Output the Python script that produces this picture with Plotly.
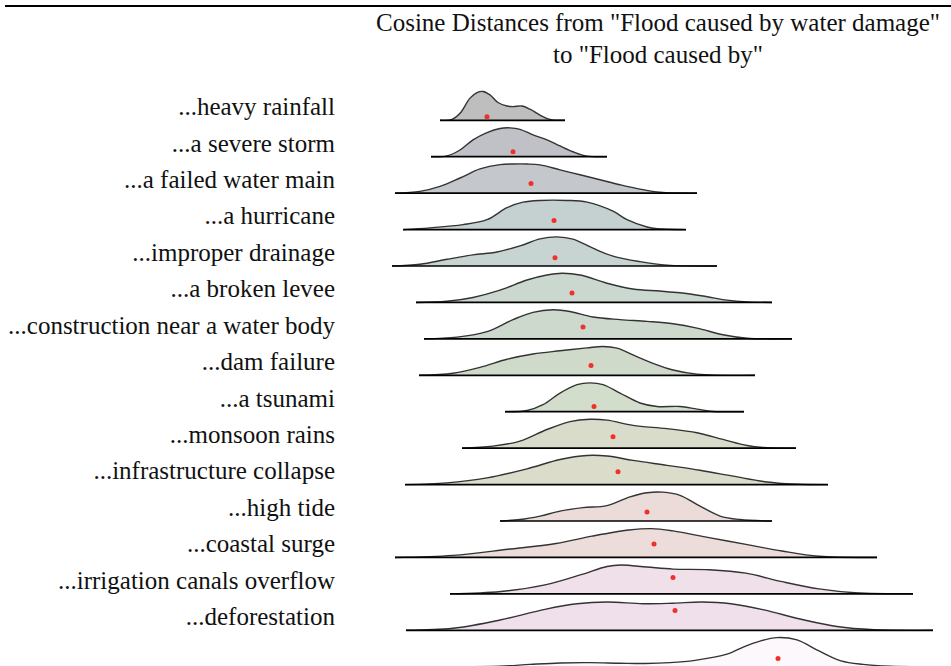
import plotly.graph_objects as go

categories = [
    "...heavy rainfall", "...a severe storm", "...a failed water main", "...a hurricane",
    "...improper drainage", "...a broken levee", "...construction near a water body",
    "...dam failure", "...a tsunami", "...monsoon rains", "...infrastructure collapse",
    "...high tide", "...coastal surge", "...irrigation canals overflow", "...deforestation", "...joy",
]

# cosine distance sample positions and relative density (peak ~1) per category
dist_heavy_rainfall = [0.140, 0.152, 0.160, 0.170, 0.177, 0.183, 0.190, 0.198, 0.207, 0.213, 0.222, 0.230, 0.240, 0.250, 0.265]
dens_heavy_rainfall = [0, 0.03, 0.24, 0.76, 0.95, 0.99, 0.87, 0.61, 0.49, 0.47, 0.49, 0.38, 0.18, 0.03, 0]
dist_severe_storm = [0.131, 0.147, 0.160, 0.173, 0.187, 0.200, 0.210, 0.220, 0.233, 0.247, 0.260, 0.273, 0.287, 0.307]
dens_severe_storm = [0, 0.03, 0.23, 0.58, 0.83, 0.97, 0.99, 0.94, 0.75, 0.58, 0.37, 0.17, 0.02, 0]
dist_water_main = [0.095, 0.120, 0.140, 0.160, 0.180, 0.200, 0.213, 0.227, 0.240, 0.260, 0.280, 0.300, 0.320, 0.340, 0.360, 0.397]
dens_water_main = [0, 0.06, 0.23, 0.52, 0.83, 0.98, 1.0, 1.0, 0.97, 0.80, 0.63, 0.46, 0.29, 0.14, 0.03, 0]
dist_hurricane = [0.103, 0.130, 0.163, 0.187, 0.207, 0.223, 0.240, 0.267, 0.287, 0.313, 0.327, 0.347, 0.357, 0.386]
dens_hurricane = [0, 0.06, 0.17, 0.34, 0.75, 0.94, 1.0, 1.0, 0.94, 0.63, 0.34, 0.09, 0.03, 0]
dist_drainage = [0.092, 0.120, 0.147, 0.173, 0.197, 0.220, 0.240, 0.257, 0.273, 0.293, 0.313, 0.340, 0.367, 0.417]
dens_drainage = [0, 0.06, 0.23, 0.38, 0.48, 0.69, 0.93, 1.0, 0.92, 0.61, 0.34, 0.15, 0.03, 0]
dist_levee = [0.116, 0.147, 0.173, 0.200, 0.227, 0.247, 0.262, 0.280, 0.307, 0.333, 0.360, 0.380, 0.403, 0.427, 0.447, 0.472]
dens_levee = [0, 0.04, 0.17, 0.42, 0.77, 0.94, 1.0, 0.94, 0.66, 0.46, 0.39, 0.33, 0.22, 0.08, 0.02, 0]
dist_construction = [0.124, 0.157, 0.187, 0.213, 0.233, 0.253, 0.270, 0.293, 0.320, 0.347, 0.373, 0.397, 0.423, 0.447, 0.492]
dens_construction = [0, 0.06, 0.25, 0.66, 0.91, 1.0, 0.94, 0.75, 0.66, 0.60, 0.52, 0.37, 0.14, 0.02, 0]
dist_dam = [0.119, 0.153, 0.180, 0.207, 0.233, 0.260, 0.287, 0.303, 0.317, 0.333, 0.353, 0.373, 0.397, 0.455]
dens_dam = [0, 0.07, 0.27, 0.55, 0.73, 0.84, 0.94, 0.99, 0.93, 0.70, 0.41, 0.18, 0.04, 0]
dist_tsunami = [0.205, 0.227, 0.243, 0.260, 0.277, 0.290, 0.303, 0.320, 0.340, 0.357, 0.380, 0.397, 0.413, 0.444]
dens_tsunami = [0, 0.04, 0.24, 0.64, 0.93, 0.99, 0.93, 0.64, 0.30, 0.18, 0.18, 0.09, 0.01, 0]
dist_monsoon = [0.162, 0.193, 0.220, 0.247, 0.270, 0.290, 0.307, 0.333, 0.367, 0.397, 0.423, 0.447, 0.463, 0.496]
dens_monsoon = [0, 0.07, 0.24, 0.64, 0.91, 0.99, 0.96, 0.78, 0.67, 0.53, 0.30, 0.09, 0.02, 0]
dist_infrastructure = [0.105, 0.147, 0.187, 0.227, 0.260, 0.287, 0.307, 0.333, 0.367, 0.400, 0.433, 0.467, 0.493, 0.528]
dens_infrastructure = [0, 0.06, 0.23, 0.54, 0.86, 1.0, 0.98, 0.83, 0.66, 0.49, 0.29, 0.09, 0.02, 0]
dist_high_tide = [0.200, 0.220, 0.240, 0.260, 0.283, 0.307, 0.330, 0.347, 0.363, 0.380, 0.400, 0.420, 0.440, 0.472]
dens_high_tide = [0, 0.05, 0.17, 0.34, 0.46, 0.53, 0.83, 0.97, 0.99, 0.88, 0.51, 0.17, 0.05, 0]
dist_coastal = [0.095, 0.153, 0.208, 0.256, 0.292, 0.329, 0.351, 0.373, 0.409, 0.446, 0.482, 0.519, 0.577]
dens_coastal = [0, 0.07, 0.28, 0.48, 0.73, 0.94, 0.99, 0.91, 0.68, 0.45, 0.22, 0.04, 0]
dist_irrigation = [0.150, 0.201, 0.245, 0.281, 0.307, 0.321, 0.347, 0.373, 0.409, 0.446, 0.482, 0.519, 0.555, 0.613]
dens_irrigation = [0, 0.08, 0.31, 0.66, 0.94, 0.99, 0.92, 0.85, 0.83, 0.71, 0.42, 0.17, 0.04, 0]
dist_deforestation = [0.106, 0.153, 0.201, 0.245, 0.277, 0.307, 0.343, 0.373, 0.402, 0.431, 0.464, 0.501, 0.537, 0.574, 0.633]
dens_deforestation = [0, 0.07, 0.36, 0.72, 0.91, 0.97, 0.91, 0.93, 0.97, 0.91, 0.70, 0.38, 0.13, 0.02, 0]
dist_joy = [0.150, 0.200, 0.230, 0.260, 0.290, 0.320, 0.345, 0.370, 0.395, 0.427, 0.445, 0.460, 0.477, 0.497, 0.519, 0.541, 0.563, 0.590, 0.630]
dens_joy = [0, 0.02, 0.08, 0.13, 0.14, 0.12, 0.11, 0.14, 0.22, 0.43, 0.70, 0.88, 1.0, 0.92, 0.54, 0.20, 0.08, 0.02, 0]

curve_dist = [dist_heavy_rainfall, dist_severe_storm, dist_water_main, dist_hurricane, dist_drainage,
              dist_levee, dist_construction, dist_dam, dist_tsunami, dist_monsoon, dist_infrastructure,
              dist_high_tide, dist_coastal, dist_irrigation, dist_deforestation, dist_joy]
curve_dens = [dens_heavy_rainfall, dens_severe_storm, dens_water_main, dens_hurricane, dens_drainage,
              dens_levee, dens_construction, dens_dam, dens_tsunami, dens_monsoon, dens_infrastructure,
              dens_high_tide, dens_coastal, dens_irrigation, dens_deforestation, dens_joy]

mean_dist = [0.187, 0.213, 0.231, 0.254, 0.255, 0.272, 0.283, 0.291, 0.294, 0.313, 0.318, 0.347, 0.354, 0.373, 0.375, 0.478]
mean_dot_level = [0.12, 0.17, 0.33, 0.31, 0.28, 0.32, 0.41, 0.34, 0.18, 0.39, 0.44, 0.31, 0.46, 0.56, 0.68, 0.28]

fill_colors = ["#bebebe", "#c0c1c6", "#c4c8cc", "#c5d1d0", "#c7d4d1", "#cad8cf", "#ccd9cc", "#d0dacb",
               "#d2ddcb", "#dadccb", "#dcdcca", "#ecdcd9", "#ecdcda", "#efe0ea", "#f0e0ec", "#fdf8fb"]

SCALE = 0.8
FONT = "Liberation Serif, DejaVu Serif, serif"

fig = go.Figure()
for i, cat in enumerate(categories):
    base = -i
    xs = curve_dist[i]
    ys = [base + d * SCALE for d in curve_dens[i]]
    fig.add_trace(go.Scatter(x=xs, y=ys, mode="lines", fill="toself", fillcolor=fill_colors[i],
                             line=dict(color="#333333", width=1.4, shape="spline", smoothing=1.0),
                             hoverinfo="skip", name=cat))
    fig.add_trace(go.Scatter(x=[xs[0], xs[-1]], y=[base, base], mode="lines",
                             line=dict(color="black", width=1.7), hoverinfo="skip"))
    fig.add_trace(go.Scatter(x=[mean_dist[i]], y=[base + mean_dot_level[i] * SCALE], mode="markers",
                             marker=dict(color="#f0302a", size=5), hoverinfo="skip"))

fig.add_shape(type="line", xref="paper", yref="paper", x0=-0.561, x1=1.0, y0=1.1263, y1=1.1263,
              line=dict(color="black", width=2))

fig.update_layout(
    width=951, height=666,
    margin=dict(l=345, r=0, t=80, b=0),
    plot_bgcolor="white", paper_bgcolor="white",
    showlegend=False,
    font=dict(family=FONT, color="#111111"),
    title=dict(text='Cosine Distances from "Flood caused by water damage"<br>to "Flood caused by"',
               x=658 / 951, xref="container", xanchor="center",
               y=1 - 30.5 / 666, yref="container", yanchor="middle",
               font=dict(family=FONT, size=25, color="#111111")),
    xaxis=dict(range=[0.045, 0.651], visible=False),
    yaxis=dict(range=[-14.98, 1.106], tickvals=[-i + 0.38 for i in range(len(categories))],
               ticktext=categories, showgrid=False, zeroline=False, showline=False, ticks="",
               ticklabelstandoff=9,
               tickfont=dict(family=FONT, size=25, color="#111111")),
)

fig.write_html("out.html", config={"displayModeBar": False},
               post_script="document.body.style.margin='0';document.body.style.overflow='hidden';")
